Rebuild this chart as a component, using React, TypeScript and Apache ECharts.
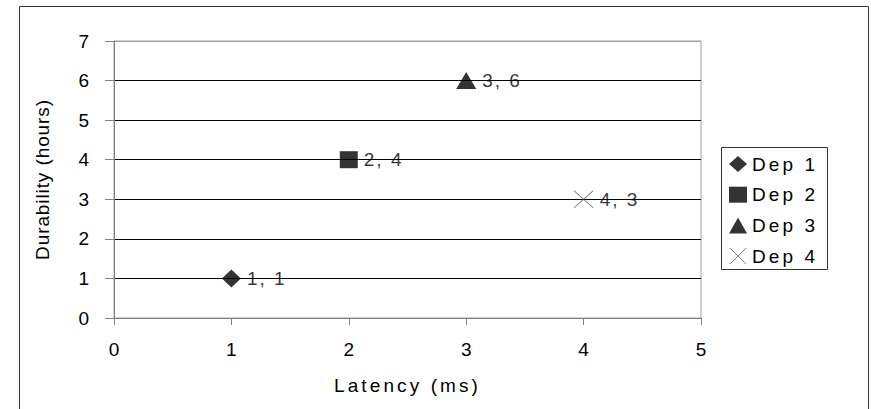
import React, { useEffect, useRef } from "react";
import * as echarts from "echarts";

const seriesNames = ["Dep 1", "Dep 2", "Dep 3", "Dep 4"];
const latencyMs = [1, 2, 3, 4];
const durabilityHours = [1, 4, 6, 3];
const xAxisName = "Latency (ms)";
const yAxisName = "Durability (hours)";
const xRange = { min: 0, max: 5, interval: 1 };
const yRange = { min: 0, max: 7, interval: 1 };

const CROSS = "path://M0,0L10,10M10,0L0,10";
const symbols = ["diamond", "rect", "triangle", CROSS];
const symbolSizes: [number, number][] = [
  [19, 18],
  [18, 17],
  [20, 17],
  [19, 17],
];
const itemStyles = [
  { color: "#000" },
  { color: "#000" },
  { color: "#000" },
  { color: "transparent", borderColor: "#555", borderWidth: 1 },
];

const FONT_TICK = "'Liberation Sans', Arial, sans-serif";
const FONT_YNAME = "'Liberation Sans', lsB, sans-serif";
const FONT_WIDE = "'Liberation Sans', lsC, sans-serif";
const FONT_LABEL = "'Liberation Sans', lsD, sans-serif";

const css = `
text[style*="lsB"] { letter-spacing: 0.9px; }
text[style*="lsC"] { letter-spacing: 3.1px; }
text[style*="lsD"] { letter-spacing: 2px; }
`;

export default function App() {
  const ref = useRef<HTMLDivElement>(null);

  useEffect(() => {
    document.body.style.margin = "0";
    if (!ref.current) return;
    const chart = echarts.init(ref.current, null, { renderer: "svg" });

    const option: any = {
      animation: false,
      backgroundColor: "#fff",
      grid: {
        left: 114,
        right: 170,
        top: 41,
        bottom: 91,
        show: true,
        borderColor: "#a0a0a0",
        borderWidth: 1,
        backgroundColor: "transparent",
      },
      xAxis: {
        type: "value",
        min: xRange.min,
        max: xRange.max,
        interval: xRange.interval,
        axisLine: { show: true, onZero: false, lineStyle: { color: "#808080", width: 1 } },
        axisTick: { show: true, length: 7, lineStyle: { color: "#808080" } },
        splitLine: { show: false },
        axisLabel: { margin: 22, fontSize: 19, color: "#000", fontFamily: FONT_TICK },
        name: xAxisName,
        nameLocation: "middle",
        nameGap: 58,
        nameTextStyle: { fontSize: 19, color: "#000", fontFamily: FONT_WIDE },
      },
      yAxis: {
        type: "value",
        min: yRange.min,
        max: yRange.max,
        interval: yRange.interval,
        axisLine: { show: true, onZero: false, lineStyle: { color: "#808080", width: 1 } },
        axisTick: { show: true, length: 9, lineStyle: { color: "#808080" } },
        splitLine: {
          show: true,
          lineStyle: {
            color: ["#808080", "#000", "#000", "#000", "#000", "#000", "#000", "#a0a0a0"],
            width: 1,
          },
        },
        axisLabel: { margin: 25, fontSize: 19, color: "#000", fontFamily: FONT_TICK },
        name: yAxisName,
        nameLocation: "middle",
        nameGap: 62,
        nameTextStyle: { fontSize: 19, color: "#000", fontFamily: FONT_YNAME },
      },
      legend: {
        orient: "vertical",
        left: 729,
        top: 154,
        padding: 0,
        itemWidth: 18,
        itemHeight: 16,
        itemGap: 10.7,
        selectedMode: false,
        textStyle: { fontSize: 19, color: "#000", lineHeight: 20, fontFamily: FONT_WIDE },
        data: seriesNames.map((name, i) => ({
          name,
          icon: symbols[i],
          itemStyle: itemStyles[i],
        })),
      },
      graphic: [
        {
          type: "rect",
          silent: true,
          shape: { x: 19.5, y: 6.5, width: 849, height: 430 },
          style: { fill: "none", stroke: "#333", lineWidth: 1 },
          z: 0,
        },
        {
          type: "rect",
          silent: true,
          shape: { x: 721.5, y: 147.5, width: 106, height: 122 },
          style: { fill: "none", stroke: "#333", lineWidth: 1 },
          z: 0,
        },
      ],
      series: seriesNames.map((name, i) => ({
        type: "scatter",
        name,
        data: [[latencyMs[i], durabilityHours[i]]],
        symbol: symbols[i],
        symbolSize: symbolSizes[i],
        itemStyle: itemStyles[i],
        emphasis: { disabled: true },
        label: {
          show: true,
          position: "right",
          distance: 6,
          formatter: (p: any) => `${p.value[0]}, ${p.value[1]}`,
          fontSize: 19,
          color: "#000",
          fontFamily: FONT_LABEL,
        },
      })),
    };

    chart.setOption(option);
    return () => chart.dispose();
  }, []);

  return (
    <>
      <style>{css}</style>
      <div ref={ref} style={{ width: 871, height: 409 }} />
    </>
  );
}
